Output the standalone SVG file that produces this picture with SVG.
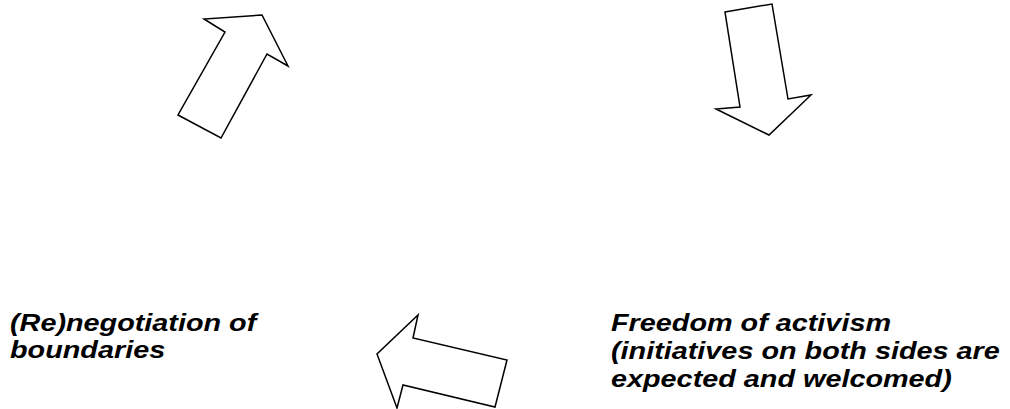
<svg xmlns="http://www.w3.org/2000/svg" width="1010" height="409" viewBox="0 0 1010 409">
<style>
.arrow{fill:#fff;stroke:#000;stroke-width:1.5;stroke-linejoin:miter}
.lbl{font-family:"Liberation Sans",Arial,sans-serif;font-weight:bold;font-style:italic;font-size:24px;fill:#000}
</style>
<rect width="1010" height="409" fill="#fff"/>
<g id="connectors">
<polygon class="arrow" points="178,115 221,138 267,54 288,66 262,15 204,19 225,32"/>
<polygon class="arrow" points="725,12 772,4 788,99 811,95 769,135 716,109 740,107"/>
<polygon class="arrow" points="418,315 413,338 507,360 495,407 403,385 397,408 377,354"/>
</g>
<g id="node-renegotiation" transform="translate(10,0) scale(1.2,1)">
<text class="lbl" x="0" y="331">(Re)negotiation of</text>
<text class="lbl" x="0" y="358">boundaries</text>
</g>
<g id="node-freedom" transform="translate(611,0) scale(1.2,1)">
<text class="lbl" x="0" y="331">Freedom of activism</text>
<text class="lbl" x="0" y="359">(initiatives on both sides are</text>
<text class="lbl" x="0" y="387">expected and welcomed)</text>
</g>
</svg>
